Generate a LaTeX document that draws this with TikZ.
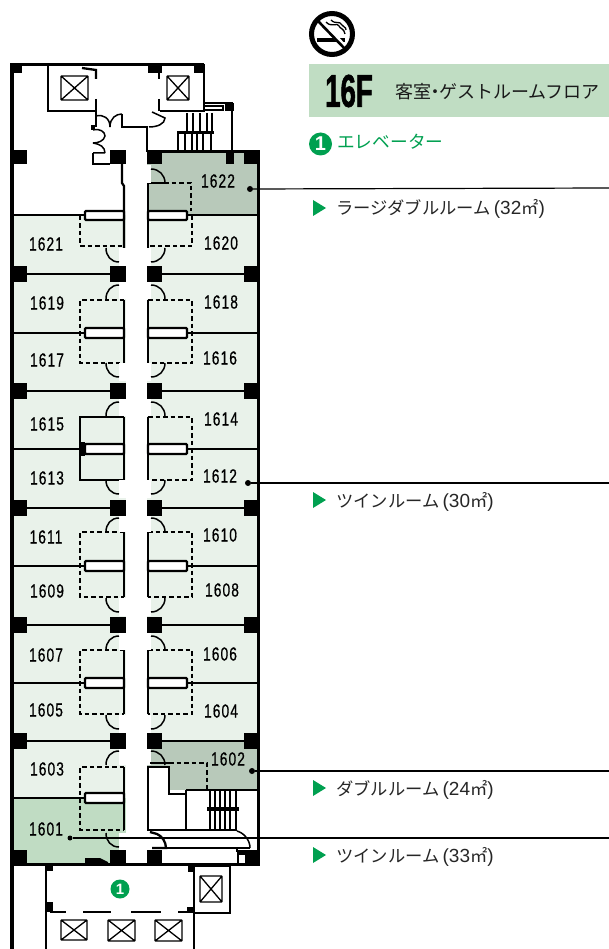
\documentclass[tikz,border=0pt]{standalone}
\usepackage{fontspec}
\newfontfamily\jp{Noto Sans CJK JP}
\newfontfamily\lat{Liberation Sans}
\newfontfamily\roomf[FakeStretch=0.72,LetterSpace=6,FakeBold=0.6]{Liberation Sans}
\newfontfamily\bigf[FakeStretch=0.6,FakeBold=1.2]{Liberation Sans Bold}
\definecolor{roompale}{HTML}{E9F2EA}
\definecolor{roomgrey}{HTML}{B8C9BA}
\definecolor{roomgreen}{HTML}{C0DCC3}
\definecolor{headgreen}{HTML}{C0DDC3}
\definecolor{signgreen}{HTML}{00A050}
\tikzset{
  wall/.style={line width=2.3pt,black},
  thinwall/.style={line width=1.5pt,black},
  dashwall/.style={line width=1.05pt,black,dash pattern=on 4.5pt off 3pt},
  arcline/.style={line width=1.5pt,black},
  roomlabel/.style={font=\roomf\fontsize{19}{19}\selectfont,inner sep=0pt,text=black},
  leaderdot/.style={circle,fill=black,inner sep=0pt,minimum size=6pt},
  leader/.style={line width=1.2pt,black},
  typelabel/.style={font=\jp\fontsize{17.3}{18}\selectfont,anchor=west,inner sep=0pt,text=black!85},
  marker/.style={fill=signgreen,draw=none},
  liftbox/.style={line width=1.3pt,black,rounded corners=0.5pt}
}
\newcommand\blk[4]{\fill[black] (#1,#2) rectangle (#3,#4);}
% door on left / right of the corridor: #1 hinge y, #2 direction
\newcommand\doorL[2]{\fill[white] (119,#1) rectangle (125.5,{#1+18*#2});
  \draw[arcline] (106,#1) .. controls (106,{#1+8*#2}) and (111,{#1+14*#2}) .. (119,{#1+14*#2});}
\newcommand\doorR[2]{\fill[white] (146.5,#1) rectangle (151,{#1+18*#2});
  \draw[arcline] (165,#1) .. controls (165,{#1+8*#2}) and (159,{#1+14*#2}) .. (151,{#1+14*#2});}
\newcommand\bathL[4][dashwall]{\draw[#1] (124,#2) -- (80,#2) -- (80,#4) -- (124,#4);
  \draw[wall] (14,#3) -- (85,#3);
  \draw[wall,fill=white,rounded corners=1pt] (85,{#3-5}) rectangle (124,{#3+5});
  \draw[wall] (124,#2) -- (124,#4);}
\newcommand\bathR[3]{\draw[dashwall] (148,#1) -- (192,#1) -- (192,#3) -- (148,#3);
  \draw[wall] (187,#2) -- (258,#2);
  \draw[wall,fill=white,rounded corners=1pt] (148,{#2-5}) rectangle (187,{#2+5});
  \draw[wall] (148,#1) -- (148,#3);}
\newcommand\colrow[1]{\blk{10}{#1-8}{27}{#1+8}\blk{110}{#1-8}{125.5}{#1+8}\blk{146.5}{#1-8}{162}{#1+8}\blk{244}{#1-8}{260}{#1+8}
  \draw[wall] (27,#1) -- (110,#1) (162,#1) -- (244,#1);}
\newcommand\lift[4]{\draw[liftbox] (#1,#2) rectangle (#3,#4) (#1,#2) -- (#3,#4) (#1,#4) -- (#3,#2);}
\begin{document}
\begin{tikzpicture}[x=1pt,y=-1pt]
\useasboundingbox (0,0) rectangle (609,949);
% ---------- fills
\fill[roompale] (14,215) rectangle (125.5,800);
\fill[roompale] (146.5,215) rectangle (258,741);
\fill[roomgreen] (14,798) rectangle (125.5,864);
\fill[roomgrey] (146.5,152) rectangle (258,215);
\fill[roomgrey] (146.5,741) rectangle (258,790);
% ---------- bottom right white block of 1602
\draw[wall,fill=white] (148,767) -- (169,767) -- (169,794) -- (186,794) -- (186,830) -- (148,830) -- cycle;
\fill[white] (186,790) rectangle (257,848);
% ---------- baths and cross walls
\draw[wall] (122,164) -- (122,183) -- (124,186) -- (124,248);
\draw[wall] (148,183) -- (148,248);
\draw[wall] (14,215) -- (85,215);
\draw[wall] (187,215) -- (258,215);
\draw[wall,fill=white,rounded corners=1pt] (85,211) rectangle (124,220);
\draw[wall,fill=white,rounded corners=1pt] (148,211) rectangle (187,220);
\draw[dashwall] (80,216) -- (80,246) -- (124,246);
\draw[dashwall] (192,216) -- (192,246) -- (148,246);
\draw[dashwall] (164,183) -- (191,183) -- (191,211);
\draw[thinwall] (148,183) -- (164,183);
\bathL{300}{333}{363}
\bathR{300}{333}{363}
\bathL[wall]{417}{449}{480}
\bathR{417}{449}{480}
\bathL{532}{566}{597}
\bathR{532}{566}{597}
\bathL{650}{683}{714}
\bathR{650}{683}{714}
\bathL{767}{798}{830}
\blk{81}{442}{85}{456}
% ---------- doors
\foreach \y/\s in {248/1,299/-1,363/1,416/-1,480/1,532/-1,598/1,650/-1,715/1,765/-1,833/1}{
  \doorL{\y}{\s}
}
\foreach \y/\s in {248/1,299/-1,363/1,416/-1,480/1,532/-1,598/1,650/-1,715/1,765/-1,183/-1}{
  \doorR{\y}{\s}
}
% ---------- columns and outer walls
\foreach \y in {274,391,508,625,741}{\colrow{\y}}
\fill[black] (10,63) rectangle (14,949);
\fill[black] (257,151) rectangle (260,866);
\fill[black] (10,63) rectangle (204,66.5);
\draw[line width=3pt] (148,152) -- (260,152);
\blk{10}{63}{22}{73}\blk{148}{63}{162}{73}\blk{194}{63}{204}{73}
\blk{10}{150}{27}{164}\blk{110}{150}{125.5}{164}\blk{146.5}{152}{162}{164}\blk{226}{152}{234}{164}\blk{244}{152}{260}{164}
\blk{10}{850}{27}{866}\blk{110}{850}{125.5}{866}\blk{146.5}{850}{162}{866}\blk{237}{850}{260}{866}
\fill[white] (239,855) rectangle (245,864);
\fill[black] (10,863) rectangle (260,866);
\fill[black] (85,858) -- (100,858) -- (108,862) -- (108,864) -- (85,864) -- cycle;
% ---------- top core
\draw[thinwall] (204,64) -- (204,111) -- (160,111);
\draw[thinwall] (48,66) -- (48,111) -- (96,111);
\draw[wall] (82,68) -- (96,70) -- (96,79);
\draw[wall] (96,99) -- (96,127);
\draw[wall] (159,72) -- (159,79) (159,99) -- (159,111);
\lift{61}{76}{88}{100}
\lift{167}{76}{189}{100}
\draw[thinwall] (122,114) -- (122,127) -- (148,127);
\draw[thinwall] (147,127) -- (147,152);
\draw[arcline] (96,116) .. controls (103,114) and (110,118) .. (110,127);
\draw[arcline] (122,114) .. controls (116,114) and (110,118) .. (110,127);
\draw[arcline] (152,112) -- (165,118) .. controls (165,124) and (157,127) .. (149,127);
\fill[black] (91,125) rectangle (95,130);
\draw[arcline] (93,130) .. controls (100,128) and (105,132) .. (105,136) .. controls (104,141) and (98,143) .. (93,143);
\draw[arcline] (93,143) .. controls (100,144) and (105,147) .. (105,153) (93,153) -- (105,153);
\draw[wall] (93,153) -- (93,164) -- (110,164);
\fill[white] (94.5,155) rectangle (110,162.5);
% upper stair
\draw[wall] (204,103) -- (232,103) -- (232,152);
\blk{225}{103}{234}{111}
\draw[thinwall,fill=white] (204,106) rectangle (223,110);
\foreach \x in {187,193,200,207,212}{\draw[line width=1.1pt] (\x,113) -- (\x,132);}
\foreach \x in {178,185,192,197,203,211}{\draw[line width=1.1pt] (\x,132) -- (\x,151);}
\draw[line width=3pt] (177,132.5) -- (214,132.5);
% ---------- lower right core
\draw[thinwall] (186,790) -- (258,790);
\draw[wall] (186,790) -- (186,830) -- (237,830);
\draw[dashwall] (169,763) -- (207,763) -- (207,790);
\draw[thinwall] (150,763) -- (169,763);
\foreach \x in {210,215,220,225,230,236}{\draw[line width=1.1pt] (\x,791) -- (\x,830);}
\draw[line width=4pt] (207,809) -- (239,809);
\draw[arcline] (237,831) .. controls (244,833) and (250,840) .. (250,848);
\draw[thinwall] (166,848) -- (250,848);
\draw[thinwall] (237,848) -- (237,852);
\draw[wall] (150,832) -- (157,834) .. controls (162,836) and (166,842) .. (166,848) -- (152,848);
\fill[black] (257,790) rectangle (260,866);
% ---------- lift lobby
\draw[thinwall] (46,866) -- (46,949);
\draw[wall] (194,866) -- (194,949);
\draw[wall] (195,866) -- (230,866) -- (230,913) -- (195,913);
\blk{46}{866}{53}{871}\blk{46}{902}{53}{912}\blk{188}{866}{195}{872}\blk{187}{907}{195}{913}
\fill[white] (47.5,872) rectangle (50,901);
\draw[wall] (50,912) -- (66,912) (83,912) -- (111,912) (131,912) -- (161,912) (178,912) -- (193,912);
\lift{200}{876}{222}{902}
\lift{61}{920}{87}{940}
\lift{108}{920}{135}{941}
\lift{155}{920}{182}{941}
\node[circle,fill=signgreen,minimum size=19pt,inner sep=0pt,text=white,font=\lat\bfseries\fontsize{15}{15}\selectfont] (lobbymark) at (120,889) {1};
% ---------- room labels
\node[roomlabel] (r1622) at (218,181) {1622};
\node[roomlabel] (r1621) at (46,244) {1621};
\node[roomlabel] (r1620) at (221,243) {1620};
\node[roomlabel] (r1619) at (47,303) {1619};
\node[roomlabel] (r1618) at (221,302) {1618};
\node[roomlabel] (r1617) at (47,360) {1617};
\node[roomlabel] (r1616) at (220,358) {1616};
\node[roomlabel] (r1615) at (47,424) {1615};
\node[roomlabel] (r1614) at (221,419) {1614};
\node[roomlabel] (r1613) at (47,478) {1613};
\node[roomlabel] (r1612) at (220,476) {1612};
\node[roomlabel] (r1611) at (46,537) {1611};
\node[roomlabel] (r1610) at (220,535) {1610};
\node[roomlabel] (r1609) at (47,591) {1609};
\node[roomlabel] (r1608) at (222,590) {1608};
\node[roomlabel] (r1607) at (46,655) {1607};
\node[roomlabel] (r1606) at (220,654) {1606};
\node[roomlabel] (r1605) at (46,710) {1605};
\node[roomlabel] (r1604) at (221,711) {1604};
\node[roomlabel] (r1603) at (47,769) {1603};
\node[roomlabel] (r1602) at (228,759) {1602};
\node[roomlabel] (r1601) at (46,829) {1601};
% ---------- leaders
\node[leaderdot] (d1622) at (250,189) {};
\node[leaderdot] (d1612) at (248,483) {};
\node[leaderdot] (d1602) at (252,771) {};
\node[leaderdot,minimum size=5pt] (d1601) at (70,838) {};
\coordinate (e1622) at (609,188);
\coordinate (e1612) at (609,483);
\coordinate (e1602) at (609,771);
\coordinate (e1601) at (609,838);
\draw[leader] (d1622) -- (e1622);
\draw[leader] (d1612) -- (e1612);
\draw[leader] (d1602) -- (e1602);
\draw[leader] (d1601) -- (e1601);
% ---------- no smoking sign
\draw[line width=1.3pt] (326,22) .. controls (331,28) and (338,22) .. (339,26) .. controls (340,29) and (344,28) .. (345,34);
\draw[line width=1.3pt] (331,20) .. controls (336,25) and (339,20) .. (342,25) .. controls (343,28) and (346,26) .. (346,30);
\draw[line width=4pt] (317,40) -- (345,40);
\draw[line width=4.6pt,white] (319,20) -- (347,49);
\draw[line width=2.6pt] (318,21) -- (346,50);
\node[circle,draw=black,line width=5pt,minimum size=41pt,inner sep=0pt] (nosmoke) at (332,34) {};
% ---------- header
\fill[headgreen] (309,64) rectangle (609,117);
\node[inner sep=0pt,anchor=west,font=\bigf\fontsize{46}{46}\selectfont] (floor) at (325,91) {16F};
\node[inner sep=0pt,anchor=west,font=\jp\fontsize{18}{18}\selectfont,text=black!90] (floorname) at (395,91.5) {客室\hspace{-5pt}・\hspace{-5pt}ゲストルームフロア};
\node[circle,fill=signgreen,minimum size=23pt,inner sep=0pt,text=white,font=\lat\bfseries\fontsize{20}{20}\selectfont] (legendmark) at (320.5,144) {1};
\node[inner sep=0pt,anchor=west,font=\jp\fontsize{17.7}{18}\selectfont,text=signgreen] (legendtext) at (337,142) {エレベーター};
% ---------- room types
\foreach \y in {208,500,788,855}{
  \fill[marker] (313,\y-8) -- (326,\y) -- (313,\y+8) -- cycle;
}
\node[typelabel] (ta) at (336,208.5) {ラージダブルルーム{\lat\fontsize{19}{19}\selectfont\,(32}㎡{\lat\fontsize{19}{19}\selectfont)}};
\node[typelabel] (tb) at (336,501.5) {ツインルーム{\lat\fontsize{19}{19}\selectfont\,(30}㎡{\lat\fontsize{19}{19}\selectfont)}};
\node[typelabel] (tc) at (336,789.5) {ダブルルーム{\lat\fontsize{19}{19}\selectfont\,(24}㎡{\lat\fontsize{19}{19}\selectfont)}};
\node[typelabel] (td) at (336,856.5) {ツインルーム{\lat\fontsize{19}{19}\selectfont\,(33}㎡{\lat\fontsize{19}{19}\selectfont)}};
\end{tikzpicture}
\end{document}
